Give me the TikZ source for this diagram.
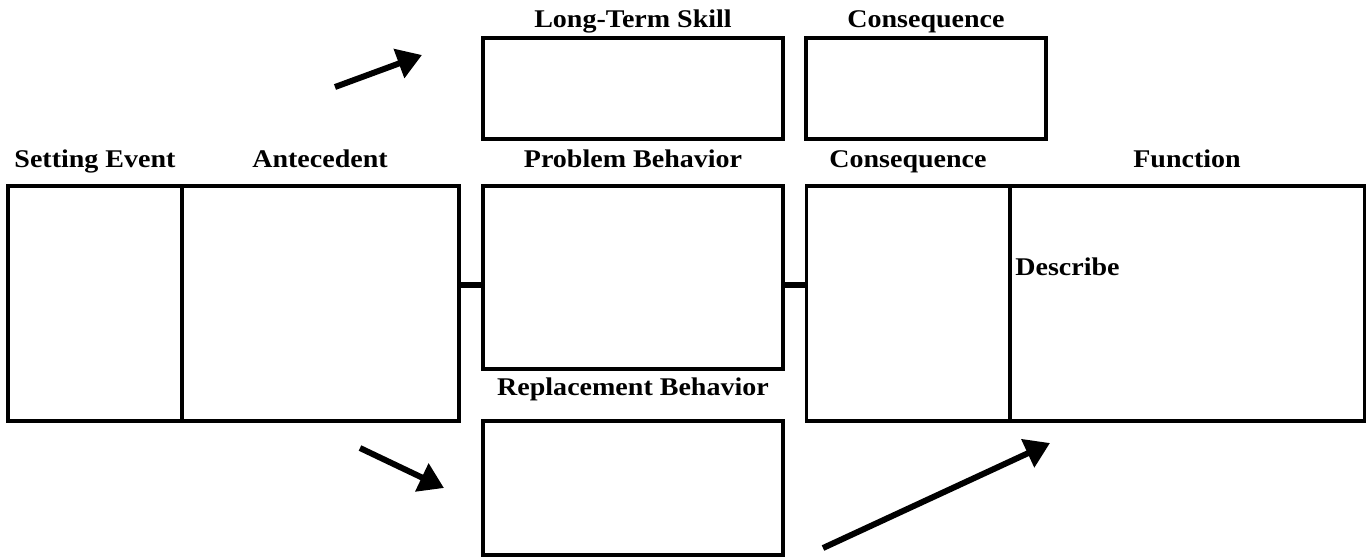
\documentclass[tikz,border=0pt]{standalone}
\usepackage{fontspec}
\setmainfont[FakeStretch=1.1]{Liberation Serif}
\usetikzlibrary{positioning,arrows.meta}
\tikzset{
  box/.style={draw,line width=2pt,inner sep=0pt,rectangle},
  lbl/.style={font=\bfseries\fontsize{14.5}{16}\selectfont,inner sep=0pt,anchor=base},
  link/.style={line width=3pt},
  bigarrow/.style={line width=3.4pt,-{Triangle[length=14pt,width=17pt]}}
}
\begin{document}
\begin{tikzpicture}[x=0.02cm,y=-0.02cm]
    \useasboundingbox (0,0) rectangle (1368,559);
    % boxes
    \node [box,minimum width=9.02cm,minimum height=4.7cm] (left) at (233.5,303.5) {};
    \draw [line width=2pt] (182,186)--(182,421);
    \node [box,minimum width=6.0cm,minimum height=3.66cm] (prob) at (633,277.5) {};
    \node [box,minimum width=6.0cm,minimum height=2.02cm] (skill) at (633,88.5) {};
    \node [box,minimum width=4.8cm,minimum height=2.02cm] (cons) at (926,88.5) {};
    \node [box,minimum width=11.16cm,minimum height=4.7cm] (right) at (1085.5,303.5) {};
    \draw [line width=2pt] (1010,186)--(1010,421);
    \node [box,minimum width=6.0cm,minimum height=2.68cm] (repl) at (633,488) {};
    % labels
    \node [lbl] (lskill) at (633,27) {Long-Term Skill};
    \node [lbl] (lcons) at (926,27) {Consequence};
    \node [lbl] (lset) at (95,167) {Setting Event};
    \node [lbl] (lante) at (320,167) {Antecedent};
    \node [lbl] (lprob) at (633,167) {Problem Behavior};
    \node [lbl] (lcons2) at (908,167) {Consequence};
    \node [lbl] (lfunc) at (1187,167) {Function};
    \node [lbl] (lrepl) at (633,395) {Replacement Behavior};
    \node [lbl,anchor=base west] (ldesc) at (1015,275) {Describe};
    % links
    \draw [link] (left.east |- 0,285)--(prob.west |- 0,285);
    \draw [link] (prob.east |- 0,285)--(right.west |- 0,285);
    % arrows
    \coordinate (a1) at (335,87);
    \coordinate (a1e) at (422,55);
    \coordinate (a2) at (360,448);
    \coordinate (a2e) at (444,488);
    \coordinate (a3) at (823,548);
    \coordinate (a3e) at (1050,443);
    \draw [bigarrow] (a1)--(a1e);
    \draw [bigarrow] (a2)--(a2e);
    \draw [bigarrow] (a3)--(a3e);
\end{tikzpicture}
\end{document}
